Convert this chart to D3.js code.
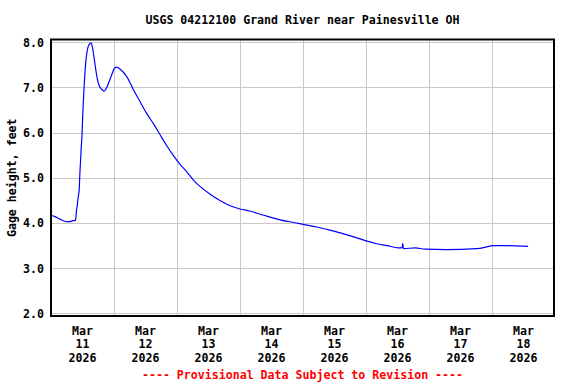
<!DOCTYPE html>
<html>
<head>
<meta charset="utf-8">
<script src="https://cdn.jsdelivr.net/npm/d3@7"></script>
<style>
  body { margin: 0; background: #fff; }
  svg text { font-family: "DejaVu Sans Mono", monospace; font-weight: bold; font-size: 11.6px; }
</style>
</head>
<body>
<div id="chart"></div>
<script>
// gage height readings
const times = [
  '2026-03-11 00:00', '2026-03-11 01:30', '2026-03-11 03:30', '2026-03-11 06:00', '2026-03-11 07:15',
  '2026-03-11 08:30', '2026-03-11 09:15', '2026-03-11 09:30', '2026-03-11 09:45', '2026-03-11 10:00',
  '2026-03-11 10:15', '2026-03-11 10:30', '2026-03-11 10:45', '2026-03-11 11:00', '2026-03-11 11:15',
  '2026-03-11 11:30', '2026-03-11 11:45', '2026-03-11 12:00', '2026-03-11 12:15', '2026-03-11 12:30',
  '2026-03-11 12:45', '2026-03-11 13:00', '2026-03-11 13:15', '2026-03-11 13:45', '2026-03-11 14:15',
  '2026-03-11 14:45', '2026-03-11 15:15', '2026-03-11 15:45', '2026-03-11 16:15', '2026-03-11 16:45',
  '2026-03-11 17:15', '2026-03-11 17:45', '2026-03-11 18:30', '2026-03-11 19:30', '2026-03-11 20:15',
  '2026-03-11 21:00', '2026-03-11 21:45', '2026-03-11 22:30', '2026-03-11 23:15', '2026-03-12 00:15',
  '2026-03-12 01:00', '2026-03-12 02:15', '2026-03-12 04:45', '2026-03-12 07:30', '2026-03-12 10:00',
  '2026-03-12 12:30', '2026-03-12 15:00', '2026-03-12 17:30', '2026-03-12 20:00', '2026-03-12 22:30',
  '2026-03-13 01:00', '2026-03-13 03:45', '2026-03-13 06:15', '2026-03-13 08:45', '2026-03-13 12:30',
  '2026-03-13 16:30', '2026-03-13 20:15', '2026-03-14 00:00', '2026-03-14 03:15', '2026-03-14 09:00',
  '2026-03-14 15:15', '2026-03-14 21:30', '2026-03-15 00:00', '2026-03-15 05:15', '2026-03-15 10:15',
  '2026-03-15 15:30', '2026-03-15 20:30', '2026-03-15 23:45', '2026-03-16 04:00', '2026-03-16 08:00',
  '2026-03-16 12:15', '2026-03-16 13:45', '2026-03-16 14:00', '2026-03-16 14:15', '2026-03-16 18:45',
  '2026-03-16 22:30', '2026-03-17 06:45', '2026-03-17 18:15', '2026-03-17 22:00', '2026-03-18 00:15',
  '2026-03-18 05:30', '2026-03-18 13:45'
];
const gage = [
  4.17, 4.14, 4.08, 4.03, 4.03,
  4.05, 4.05, 4.13, 4.30, 4.38,
  4.52, 4.62, 4.75, 5.10, 5.36,
  5.65, 5.88, 6.25, 6.60, 6.90,
  7.15, 7.38, 7.56, 7.80, 7.92,
  7.97, 7.98, 7.90, 7.72, 7.52,
  7.32, 7.16, 7.02, 6.95, 6.92,
  6.97, 7.07, 7.18, 7.30, 7.43,
  7.45, 7.41, 7.25, 6.94, 6.68,
  6.42, 6.20, 5.96, 5.72, 5.50,
  5.31, 5.13, 4.95, 4.81, 4.64,
  4.49, 4.38, 4.31, 4.27, 4.17,
  4.07, 4.00, 3.97, 3.91, 3.84,
  3.76, 3.67, 3.61, 3.54, 3.50,
  3.45, 3.45, 3.55, 3.43, 3.45,
  3.42, 3.41, 3.43, 3.47, 3.50,
  3.50, 3.48
];
const yTicks = [2, 3, 4, 5, 6, 7, 8];
const dayLabels = ['11', '12', '13', '14', '15', '16', '17', '18'];

const w = 576;
const h = 384;
const padL = 51, padR = 554, padT = 39.5, padB = 316;

const parse = d3.timeParse('%Y-%m-%d %H:%M');
const data = times.map((t, i) => ({ t: parse(t), v: gage[i] }));

const xScale = d3.scaleTime()
  .domain([parse('2026-03-11 00:00'), parse('2026-03-19 00:00')])
  .range([padL, padL + 63 * 8]);

const yScale = d3.scaleLinear()
  .domain([2, 8])
  .range([313.3, 42.3]);

const svg = d3.select('#chart').append('svg')
  .attr('width', w)
  .attr('height', h);

// horizontal grid
svg.append('g')
  .selectAll('line')
  .data(yTicks)
  .enter()
  .append('line')
  .attr('x1', padL).attr('x2', padR)
  .attr('y1', d => Math.round(yScale(d)) + 0.5)
  .attr('y2', d => Math.round(yScale(d)) + 0.5)
  .attr('stroke', '#c8c8c8');

// vertical grid at midnight
const midnights = d3.timeDay.range(parse('2026-03-12 00:00'), parse('2026-03-19 00:00'));
svg.append('g')
  .selectAll('line')
  .data(midnights)
  .enter()
  .append('line')
  .attr('x1', d => Math.round(xScale(d)) + 0.5)
  .attr('x2', d => Math.round(xScale(d)) + 0.5)
  .attr('y1', padT).attr('y2', padB)
  .attr('stroke', '#c8c8c8');

// data line
const line = d3.line()
  .x(d => xScale(d.t))
  .y(d => yScale(d.v))
  .curve(d3.curveMonotoneX);

svg.append('path')
  .datum(data)
  .attr('fill', 'none')
  .attr('stroke', '#0000ff')
  .attr('stroke-width', 1.2)
  .attr('d', line);

// frame
svg.append('rect')
  .attr('x', padL).attr('y', padT)
  .attr('width', padR - padL).attr('height', padB - padT)
  .attr('fill', 'none')
  .attr('stroke', '#000')
  .attr('stroke-width', 2);

// y tick labels
svg.append('g')
  .selectAll('text')
  .data(yTicks)
  .enter()
  .append('text')
  .attr('x', 44)
  .attr('y', d => yScale(d) + 4.5)
  .attr('text-anchor', 'end')
  .text(d => d.toFixed(1));

// x tick labels, centred at noon
const noons = dayLabels.map(d => parse('2026-03-' + d + ' 12:00'));
const xl = svg.append('g')
  .selectAll('text')
  .data(noons)
  .enter()
  .append('text')
  .attr('text-anchor', 'middle');
xl.append('tspan').attr('x', d => xScale(d)).attr('y', 335).text('Mar');
xl.append('tspan').attr('x', d => xScale(d)).attr('y', 348).text(d => d3.timeFormat('%d')(d));
xl.append('tspan').attr('x', d => xScale(d)).attr('y', 361.5).text(d => d3.timeFormat('%Y')(d));

// y axis title
svg.append('text')
  .attr('transform', 'translate(16,' + ((padT + padB) / 2) + ') rotate(-90)')
  .attr('text-anchor', 'middle')
  .text('Gage height, feet');

// title
svg.append('text')
  .attr('x', (padL + padR) / 2)
  .attr('y', 24)
  .attr('text-anchor', 'middle')
  .text('USGS 04212100 Grand River near Painesville OH');

// provisional note
svg.append('text')
  .attr('x', (padL + padR) / 2)
  .attr('y', 379)
  .attr('text-anchor', 'middle')
  .attr('fill', '#ff0000')
  .text('---- Provisional Data Subject to Revision ----');
</script>
</body>
</html>
